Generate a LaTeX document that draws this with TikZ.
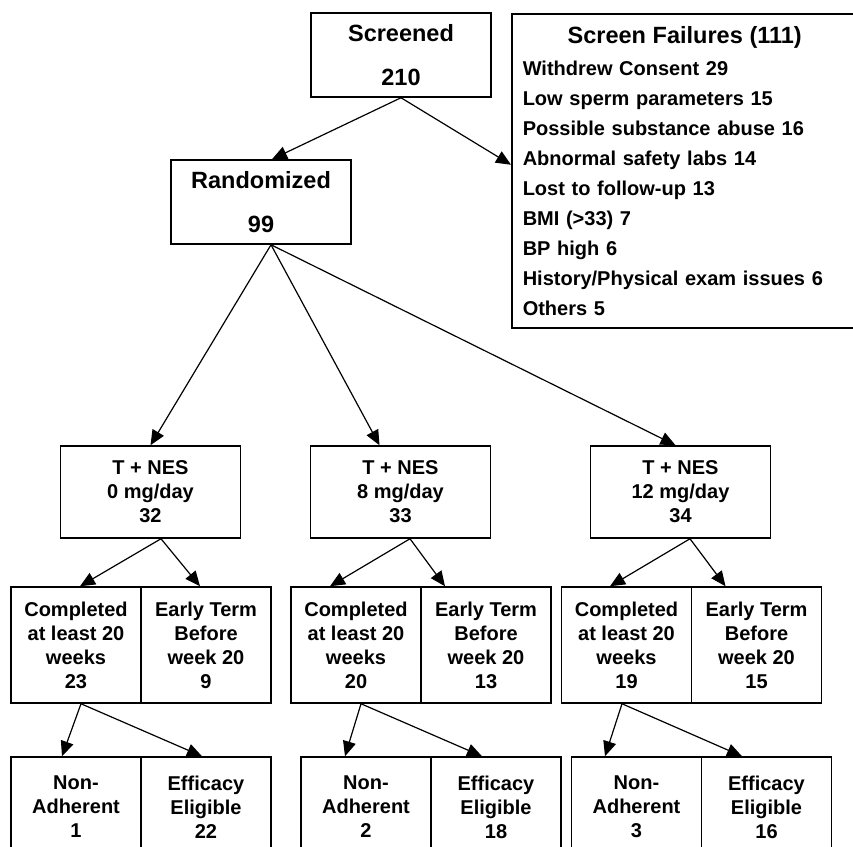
\documentclass[tikz,border=0pt]{standalone}
\usepackage{fontspec}
\setmainfont{Liberation Sans}
\usepackage{tikz}
\usetikzlibrary{arrows.meta}
\tikzset{
  %---------------------------------------%
  %  Flow-Chart boxes                     %
  %---------------------------------------%
  % Box for the screening / randomisation steps
  box_step/.style={
    rectangle,
    align=center,
    draw=black,
    line width=1.5pt,
    minimum width=180pt,
    minimum height=84pt,
    font=\bfseries\fontsize{23.5}{28}\selectfont
  },
  % Box for the list of screen failures (runs off the right edge)
  box_list/.style={
    rectangle,
    align=left,
    draw=black,
    line width=1.5pt,
    text width=344pt,
    inner xsep=11pt,
    minimum height=314pt,
    anchor=north west,
    font=\bfseries\fontsize{20}{30}\selectfont
  },
  % Box for the treatment arms
  box_arm/.style={
    rectangle,
    align=center,
    draw=black,
    line width=1.5pt,
    minimum width=180pt,
    minimum height=92pt,
    font=\bfseries\fontsize{20}{24}\selectfont
  },
  % Box for the split of each arm
  box_split/.style={
    rectangle,
    align=center,
    draw=black,
    line width=1.5pt,
    minimum width=130pt,
    minimum height=116pt,
    font=\bfseries\fontsize{20}{24}\selectfont
  },
  % Box for the adherence split (cut at the page bottom)
  box_adh/.style={
    rectangle,
    align=center,
    draw=black,
    line width=1.5pt,
    minimum width=130pt,
    minimum height=100pt,
    font=\bfseries\fontsize{20}{24}\selectfont
  },
  %----------------%
  %     Arrows     %
  %----------------%
  arrow/.style={draw,line width=1.2pt,-{Triangle[length=15pt,width=13pt]}},
}

\begin{document}
\begin{tikzpicture}[x=1pt, y=-1pt]
    \useasboundingbox (0, 0) rectangle (853, 846);
    \clip (0, 0) rectangle (853, 846);

    %-------------%
    %  Screening  %
    %-------------%
    % Screened
    \node (screened) [box_step] at (401, 55) {Screened\\[16pt]210};
    % Screen failures
    \node (fail) [box_list] at (511, 13) {\makebox[324pt][c]{\fontsize{23.5}{30}\selectfont Screen Failures (111)}\\[2pt]
      Withdrew Consent 29\\
      Low sperm parameters 15\\
      Possible substance abuse 16\\
      Abnormal safety labs 14\\
      Lost to follow-up 13\\
      BMI (>33) 7\\
      BP high 6\\
      History/Physical exam issues 6\\
      Others 5};
    % Randomized
    \node (rand) [box_step] at (261, 202) {Randomized\\[16pt]99};

    %-------------------%
    %  Treatment Arms   %
    %-------------------%
    \node (arm0) [box_arm] at (150.5, 492) {T + NES\\0 mg/day\\32};
    \node (arm8) [box_arm] at (400.5, 492) {T + NES\\8 mg/day\\33};
    \node (arm12) [box_arm] at (680.5, 492) {T + NES\\12 mg/day\\34};

    %--------------------------%
    %  Completed / Early Term  %
    %--------------------------%
    % 0 mg/day
    \node (comp0) [box_split] at (76, 645) {Completed\\at least 20\\weeks\\23};
    \node (early0) [box_split] at (206, 645) {Early Term\\Before\\week 20\\9};
    % 8 mg/day
    \node (comp8) [box_split] at (356, 645) {Completed\\at least 20\\weeks\\20};
    \node (early8) [box_split] at (486, 645) {Early Term\\Before\\week 20\\13};
    % 12 mg/day
    \node (comp12) [box_split] at (626.5, 645) {Completed\\at least 20\\weeks\\19};
    \node (early12) [box_split] at (756.5, 645) {Early Term\\Before\\week 20\\15};

    %-------------------------------%
    %  Non-Adherent / Eligible      %
    %-------------------------------%
    % 0 mg/day
    \node (nonad0) [box_adh] at (76, 807) {Non-\\Adherent\\1};
    \node (elig0) [box_adh] at (206, 807) {Efficacy\\Eligible\\22};
    % 8 mg/day
    \node (nonad8) [box_adh] at (366, 807) {Non-\\Adherent\\2};
    \node (elig8) [box_adh] at (496, 807) {Efficacy\\Eligible\\18};
    % 12 mg/day
    \node (nonad12) [box_adh] at (636.5, 807) {Non-\\Adherent\\3};
    \node (elig12) [box_adh] at (766.5, 807) {Efficacy\\Eligible\\16};

    %----------%
    %  Arrows  %
    %----------%
    % Screened --> Randomized
    \draw [arrow] (screened.south) -- ([xshift=11pt]rand.north);
    % Screened --> Screen failures
    \draw [arrow] (screened.south) -- ([yshift=6pt]fail.west);

    % Randomized --> Arms
    \draw [arrow] ([xshift=10pt]rand.south) -- (arm0.north);
    \draw [arrow] ([xshift=10pt]rand.south) -- ([xshift=-21pt]arm8.north);
    \draw [arrow] ([xshift=10pt]rand.south) -- ([xshift=-5pt]arm12.north);

    % Arms --> Completed / Early Term
    \draw [arrow] ([xshift=10.5pt]arm0.south) -- ([xshift=4pt]comp0.north);
    \draw [arrow] ([xshift=10.5pt]arm0.south) -- ([xshift=-6pt]early0.north);
    \draw [arrow] ([xshift=9.5pt]arm8.south) -- ([xshift=-26pt]comp8.north);
    \draw [arrow] ([xshift=9.5pt]arm8.south) -- ([xshift=-41pt]early8.north);
    \draw [arrow] ([xshift=9.5pt]arm12.south) -- ([xshift=-16.5pt]comp12.north);
    \draw [arrow] ([xshift=9.5pt]arm12.south) -- ([xshift=-31pt]early12.north);

    % Completed --> Non-Adherent / Efficacy Eligible
    \draw [arrow] ([xshift=5pt]comp0.south) -- ([xshift=-14pt]nonad0.north);
    \draw [arrow] ([xshift=5pt]comp0.south) -- ([xshift=-4pt]elig0.north);
    \draw [arrow] ([xshift=5pt]comp8.south) -- ([xshift=-21pt]nonad8.north);
    \draw [arrow] ([xshift=5pt]comp8.south) -- ([xshift=-14pt]elig8.north);
    \draw [arrow] ([xshift=-4.5pt]comp12.south) -- ([xshift=-31.5pt]nonad12.north);
    \draw [arrow] ([xshift=-4.5pt]comp12.south) -- ([xshift=-24.5pt]elig12.north);
\end{tikzpicture}
\end{document}
